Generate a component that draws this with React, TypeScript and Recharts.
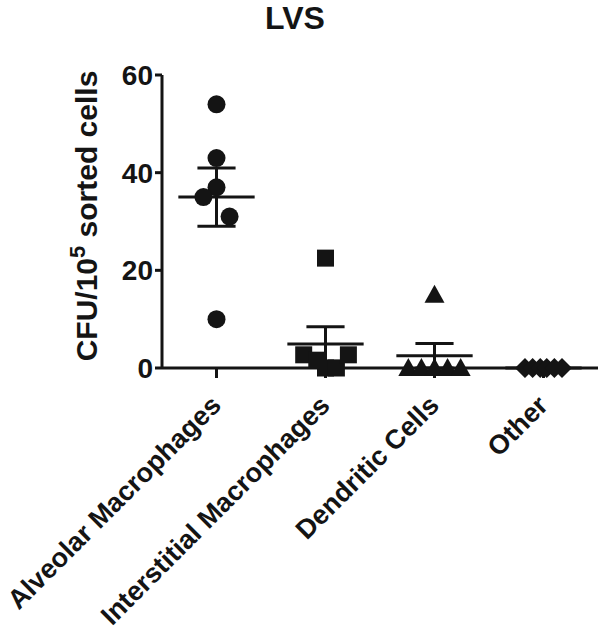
import { ComposedChart, Scatter, XAxis, YAxis, ReferenceLine } from 'recharts'

const categories = ['Alveolar Macrophages', 'Interstitial Macrophages', 'Dendritic Cells', 'Other']

// CFU per 10^5 sorted cells, one value per mouse
const alveolarValues = [54, 43, 37, 35, 31, 10]
const interstitialValues = [22.5, 2.7, 1.6, 0, 0, 2.7]
const dendriticValues = [15, 0, 0, 0, 0, 0]
const otherValues = [0, 0, 0, 0, 0, 0]

// horizontal scatter of the points inside each column (category units)
const alveolarJitter = [0, 0, 0, -0.12, 0.12, 0]
const interstitialJitter = [0, -0.2, -0.08, 0, 0.1, 0.21]
const dendriticJitter = [0, -0.24, -0.12, 0, 0.12, 0.24]
const otherJitter = [-0.17, -0.1, -0.03, 0.03, 0.1, 0.17]

const yTicks = [0, 20, 40, 60]

const INK = '#141414'
const FONT = '"Liberation Sans", Arial, sans-serif'

const groups = [
  { values: alveolarValues, jitter: alveolarJitter, marker: 'circle' },
  { values: interstitialValues, jitter: interstitialJitter, marker: 'square' },
  { values: dendriticValues, jitter: dendriticJitter, marker: 'triangle' },
  { values: otherValues, jitter: otherJitter, marker: 'diamond' },
]

// mean +/- SEM for each column
const stats = groups.map((g) => {
  const n = g.values.length
  const mean = g.values.reduce((a, b) => a + b, 0) / n
  const sd = Math.sqrt(g.values.reduce((a, b) => a + (b - mean) ** 2, 0) / (n - 1))
  return { mean, sem: sd / Math.sqrt(n) }
})

function Marker(kind: string) {
  return (props: any) => {
    const { cx, cy } = props
    if (cx == null || cy == null) return null
    if (kind === 'circle') return <circle cx={cx} cy={cy} r={9} fill={INK} />
    if (kind === 'square') return <rect x={cx - 8.5} y={cy - 8.5} width={17} height={17} fill={INK} />
    if (kind === 'triangle')
      return <polygon points={`${cx},${cy - 10} ${cx + 10},${cy + 8} ${cx - 10},${cy + 8}`} fill={INK} />
    return <polygon points={`${cx},${cy - 10} ${cx + 10},${cy} ${cx},${cy + 10} ${cx - 10},${cy}`} fill={INK} />
  }
}

function CategoryTick(props: any) {
  const { x, y, payload } = props
  const label = categories[payload.value - 1]
  const ax = x + 6
  const ay = y + 27
  return (
    <text
      x={ax}
      y={ay}
      transform={`rotate(-45, ${ax}, ${ay})`}
      textAnchor="end"
      fontFamily={FONT}
      fontWeight="bold"
      fontSize={27}
      fill={INK}
    >
      {label}
    </text>
  )
}

export default function App() {
  return (
    <div style={{ position: 'absolute', left: 0, top: 0, width: 600, height: 632, background: '#fff' }}>
      <ComposedChart width={600} height={632} margin={{ top: 75, right: 2, left: 0, bottom: 0 }}>
        <XAxis
          type="number"
          dataKey="x"
          domain={[0.5, 4.5]}
          ticks={[1, 2, 3, 4]}
          interval={0}
          height={264}
          tickSize={10}
          axisLine={{ stroke: INK, strokeWidth: 3 }}
          tickLine={{ stroke: INK, strokeWidth: 3 }}
          tick={<CategoryTick />}
        />
        <YAxis
          type="number"
          dataKey="y"
          domain={[0, 60]}
          ticks={yTicks}
          width={162}
          tickSize={7}
          tickMargin={2}
          axisLine={{ stroke: INK, strokeWidth: 3 }}
          tickLine={{ stroke: INK, strokeWidth: 3 }}
          tick={{ fill: INK, fontSize: 28, fontWeight: 'bold', fontFamily: FONT }}
        />
        {stats.map((s, i) => {
          const c = i + 1
          const lo = Math.max(0, s.mean - s.sem)
          const hi = s.mean + s.sem
          return [
            <ReferenceLine
              key={`m${i}`}
              segment={[{ x: c - 0.35, y: s.mean }, { x: c + 0.35, y: s.mean }]}
              stroke={INK}
              strokeWidth={3}
            />,
            <ReferenceLine
              key={`v${i}`}
              segment={[{ x: c, y: lo }, { x: c, y: hi }]}
              stroke={INK}
              strokeWidth={3}
            />,
            <ReferenceLine
              key={`h${i}`}
              segment={[{ x: c - 0.175, y: hi }, { x: c + 0.175, y: hi }]}
              stroke={INK}
              strokeWidth={3}
            />,
            <ReferenceLine
              key={`l${i}`}
              segment={[{ x: c - 0.175, y: lo }, { x: c + 0.175, y: lo }]}
              stroke={INK}
              strokeWidth={3}
            />,
          ]
        })}
        {groups.map((g, i) => (
          <Scatter
            key={categories[i]}
            name={categories[i]}
            data={g.values.map((v, j) => ({ x: i + 1 + g.jitter[j], y: v }))}
            shape={Marker(g.marker)}
            isAnimationActive={false}
          />
        ))}
      </ComposedChart>
      <svg
        width={600}
        height={632}
        style={{ position: 'absolute', left: 0, top: 0, pointerEvents: 'none' }}
      >
        <text x={295} y={29} textAnchor="middle" fontFamily={FONT} fontWeight="bold" fontSize={32} fill={INK}>
          LVS
        </text>
        <text
          x={97}
          y={216}
          transform="rotate(-90, 97, 216)"
          textAnchor="middle"
          fontFamily={FONT}
          fontWeight="bold"
          fontSize={30}
          fill={INK}
        >
          CFU/10
          <tspan fontSize={22} dy={-12}>
            5
          </tspan>
          <tspan dy={12}> sorted cells</tspan>
        </text>
      </svg>
    </div>
  )
}
